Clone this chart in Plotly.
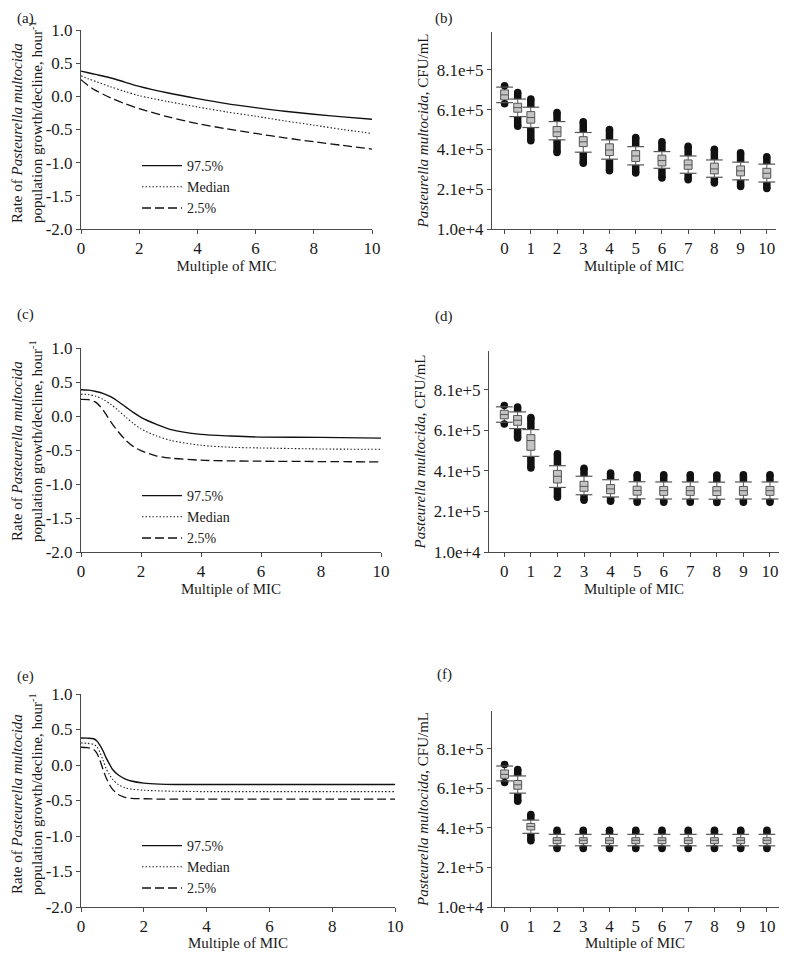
import plotly.graph_objects as go

# page is shown with the browser's default 8px body margin, so the figure is
# sized to fill the 787x960 window exactly and reference pixels are shifted by OFF
PAGE_W, PAGE_H = 787, 960
OFF = 8
W, H = PAGE_W - 2 * OFF, PAGE_H - 2 * OFF
FONT = "Liberation Serif"
AX = "#4a4a4a"
INK = "#111111"

# ---------------- data: rate curves (left panels) ----------------
a_x = [0, 0.25, 0.5, 1, 1.5, 2, 3, 4, 5, 6, 7, 8, 9, 10]
a_hi = [0.38, 0.355, 0.33, 0.28, 0.215, 0.15, 0.05, -0.035, -0.11, -0.17, -0.225, -0.27, -0.31, -0.345]
a_med = [0.31, 0.265, 0.225, 0.145, 0.075, 0.01, -0.08, -0.16, -0.235, -0.30, -0.37, -0.435, -0.50, -0.56]
a_lo = [0.25, 0.16, 0.09, -0.02, -0.11, -0.185, -0.31, -0.41, -0.49, -0.56, -0.625, -0.685, -0.74, -0.795]

c_x = [0, 0.25, 0.5, 0.75, 1, 1.25, 1.5, 1.75, 2, 2.5, 3, 4, 5, 6, 8, 10]
c_hi = [0.385, 0.38, 0.36, 0.33, 0.28, 0.21, 0.13, 0.05, -0.02, -0.12, -0.20, -0.27, -0.295, -0.31, -0.315, -0.325]
c_med = [0.32, 0.315, 0.29, 0.24, 0.17, 0.08, -0.02, -0.11, -0.19, -0.29, -0.36, -0.43, -0.46, -0.47, -0.485, -0.49]
c_lo = [0.245, 0.24, 0.20, 0.08, -0.09, -0.235, -0.36, -0.45, -0.51, -0.585, -0.62, -0.65, -0.66, -0.665, -0.67, -0.675]

e_x = [0, 0.2, 0.4, 0.5, 0.6, 0.7, 0.8, 0.9, 1.0, 1.2, 1.4, 1.6, 2, 2.5, 3, 4, 6, 8, 10]
e_hi = [0.38, 0.378, 0.37, 0.34, 0.28, 0.20, 0.10, 0.02, -0.06, -0.145, -0.195, -0.225, -0.255, -0.27, -0.275, -0.275, -0.275, -0.275, -0.275]
e_med = [0.31, 0.305, 0.29, 0.26, 0.18, 0.07, -0.05, -0.13, -0.20, -0.28, -0.32, -0.34, -0.355, -0.365, -0.37, -0.375, -0.375, -0.375, -0.375]
e_lo = [0.25, 0.245, 0.22, 0.17, 0.07, -0.06, -0.18, -0.27, -0.34, -0.42, -0.455, -0.47, -0.475, -0.48, -0.48, -0.48, -0.48, -0.48, -0.48]

series_names = ["97.5%", "Median", "2.5%"]

# ---------------- data: CFU box summaries (right panels) ----------------
mic_x = [0, 0.5, 1, 2, 3, 4, 5, 6, 7, 8, 9, 10]

b_max = [7.30e5, 6.96e5, 6.63e5, 5.96e5, 5.49e5, 5.10e5, 4.70e5, 4.48e5, 4.26e5, 4.11e5, 3.93e5, 3.73e5]
b_up = [7.23e5, 6.63e5, 6.22e5, 5.50e5, 4.95e5, 4.58e5, 4.24e5, 3.99e5, 3.77e5, 3.57e5, 3.46e5, 3.36e5]
b_q3 = [7.09e5, 6.42e5, 6.00e5, 5.25e5, 4.74e5, 4.38e5, 4.04e5, 3.81e5, 3.57e5, 3.41e5, 3.27e5, 3.15e5]
b_med = [6.84e5, 6.20e5, 5.70e5, 4.98e5, 4.48e5, 4.07e5, 3.77e5, 3.54e5, 3.32e5, 3.12e5, 3.02e5, 2.90e5]
b_q1 = [6.59e5, 5.97e5, 5.42e5, 4.74e5, 4.24e5, 3.79e5, 3.49e5, 3.27e5, 3.10e5, 2.87e5, 2.77e5, 2.65e5]
b_low = [6.45e5, 5.75e5, 5.20e5, 4.58e5, 3.96e5, 3.61e5, 3.32e5, 3.15e5, 2.90e5, 2.70e5, 2.57e5, 2.46e5]
b_min = [6.40e5, 5.26e5, 4.54e5, 3.95e5, 3.41e5, 3.03e5, 2.91e5, 2.66e5, 2.58e5, 2.41e5, 2.24e5, 2.13e5]

d_max = [7.32e5, 7.24e5, 6.73e5, 4.94e5, 4.23e5, 3.99e5, 3.91e5, 3.90e5, 3.90e5, 3.89e5, 3.90e5, 3.90e5]
d_up = [7.25e5, 7.00e5, 6.13e5, 4.35e5, 3.83e5, 3.66e5, 3.56e5, 3.55e5, 3.55e5, 3.54e5, 3.55e5, 3.55e5]
d_q3 = [7.08e5, 6.82e5, 5.88e5, 4.12e5, 3.58e5, 3.42e5, 3.34e5, 3.33e5, 3.33e5, 3.32e5, 3.33e5, 3.33e5]
d_med = [6.87e5, 6.59e5, 5.59e5, 3.83e5, 3.33e5, 3.21e5, 3.13e5, 3.12e5, 3.12e5, 3.11e5, 3.12e5, 3.12e5]
d_q1 = [6.66e5, 6.34e5, 5.11e5, 3.50e5, 3.09e5, 2.97e5, 2.90e5, 2.89e5, 2.89e5, 2.88e5, 2.89e5, 2.89e5]
d_low = [6.49e5, 6.18e5, 4.81e5, 3.28e5, 2.92e5, 2.81e5, 2.72e5, 2.71e5, 2.71e5, 2.70e5, 2.71e5, 2.71e5]
d_min = [6.41e5, 5.72e5, 4.24e5, 2.80e5, 2.65e5, 2.60e5, 2.55e5, 2.55e5, 2.55e5, 2.54e5, 2.55e5, 2.55e5]

f_max = [7.30e5, 7.05e5, 4.77e5, 3.98e5, 3.98e5, 3.98e5, 3.98e5, 3.98e5, 3.98e5, 3.98e5, 3.98e5, 3.98e5]
f_up = [7.22e5, 6.72e5, 4.49e5, 3.77e5, 3.77e5, 3.77e5, 3.77e5, 3.77e5, 3.77e5, 3.77e5, 3.77e5, 3.77e5]
f_q3 = [7.02e5, 6.49e5, 4.32e5, 3.60e5, 3.60e5, 3.60e5, 3.60e5, 3.60e5, 3.60e5, 3.60e5, 3.60e5, 3.60e5]
f_med = [6.80e5, 6.27e5, 4.17e5, 3.47e5, 3.47e5, 3.47e5, 3.47e5, 3.47e5, 3.47e5, 3.47e5, 3.47e5, 3.47e5]
f_q1 = [6.60e5, 6.05e5, 3.99e5, 3.30e5, 3.30e5, 3.30e5, 3.30e5, 3.30e5, 3.30e5, 3.30e5, 3.30e5, 3.30e5]
f_low = [6.47e5, 5.85e5, 3.82e5, 3.19e5, 3.19e5, 3.19e5, 3.19e5, 3.19e5, 3.19e5, 3.19e5, 3.19e5, 3.19e5]
f_min = [6.39e5, 5.44e5, 3.44e5, 3.06e5, 3.06e5, 3.06e5, 3.06e5, 3.06e5, 3.06e5, 3.06e5, 3.06e5, 3.06e5]

rate_tickvals = [-2.0, -1.5, -1.0, -0.5, 0.0, 0.5, 1.0]
rate_ticktext = ["-2.0", "-1.5", "-1.0", "-0.5", "0.0", "0.5", "1.0"]
cfu_tickvals = [1.0e4, 2.1e5, 4.1e5, 6.1e5, 8.1e5]
cfu_ticktext = ["1.0e+4", "2.1e+5", "4.1e+5", "6.1e+5", "8.1e+5"]
mic_tickvals = [0, 1, 2, 3, 4, 5, 6, 7, 8, 9, 10]
x_title = "Multiple of MIC"

# ---------------- layout helpers (arguments in reference page pixels) ----------------
def px_x(p):
    return min(max((p - OFF) / W, 0.0), 1.0)

def px_y(p):
    return min(max(1 - (p - OFF) / H, 0.0), 1.0)

def xd(l, r):
    return [px_x(l), px_x(r)]

def yd(top, bot):
    return [px_y(bot), px_y(top)]

tickfont = dict(family=FONT, size=17, color="#1a1a1a")
titlefont = dict(family=FONT, size=15, color="#1a1a1a")

def base_axis():
    return dict(showline=True, linecolor=AX, linewidth=1, ticks="outside", ticklen=4,
                tickcolor=AX, tickwidth=1, showgrid=False, zeroline=False,
                tickfont=tickfont, automargin=False, ticklabeloverflow="allow")

fig = go.Figure()

dash_styles = [dict(dash="solid", width=1.4, color=INK),
               dict(dash="1.5px,2px", width=1.1, color="#222"),
               dict(dash="9px,4px", width=1.3, color=INK)]

left_panels = [
    ("x", "y", "legend", a_x, [a_hi, a_med, a_lo]),
    ("x3", "y3", "legend2", c_x, [c_hi, c_med, c_lo]),
    ("x5", "y5", "legend3", e_x, [e_hi, e_med, e_lo]),
]
for xa, ya, lg, xs, ys_list in left_panels:
    for name, ys, st in zip(series_names, ys_list, dash_styles):
        fig.add_trace(go.Scatter(x=xs, y=ys, mode="lines", name=name,
                                 line=dict(shape="spline", smoothing=0.8, **st),
                                 xaxis=xa, yaxis=ya, legend=lg, showlegend=True,
                                 hoverinfo="skip"))

right_panels = [
    ("x2", "y2", b_max, b_up, b_q3, b_med, b_q1, b_low, b_min),
    ("x4", "y4", d_max, d_up, d_q3, d_med, d_q1, d_low, d_min),
    ("x6", "y6", f_max, f_up, f_q3, f_med, f_q1, f_low, f_min),
]
for xa, ya, vmax, vup, vq3, vmed, vq1, vlow, vmin in right_panels:
    # outlier columns (dense black dots) from whisker cap to extreme
    sx, sy = [], []
    for xv, u, mx, lo, mn in zip(mic_x, vup, vmax, vlow, vmin):
        sx += [xv, xv, None, xv, xv, None]
        sy += [u, mx, None, lo, mn, None]
    fig.add_trace(go.Scatter(x=sx, y=sy, mode="lines", line=dict(color=INK, width=7.5),
                             xaxis=xa, yaxis=ya, showlegend=False, hoverinfo="skip"))
    fig.add_trace(go.Scatter(x=mic_x + mic_x, y=vmax + vmin, mode="markers",
                             marker=dict(color=INK, size=7.5, line=dict(width=0)),
                             xaxis=xa, yaxis=ya, showlegend=False, hoverinfo="skip"))
    # box (interquartile) with median
    fig.add_trace(go.Box(x=mic_x, q1=vq1, median=vmed, q3=vq3, lowerfence=vlow, upperfence=vup,
                         width=0.3, whiskerwidth=0, fillcolor="#c4c4c4",
                         line=dict(color="#555555", width=1), boxpoints=False,
                         xaxis=xa, yaxis=ya, showlegend=False, hoverinfo="skip"))
    # whisker caps
    fig.add_trace(go.Scatter(x=mic_x + mic_x, y=vup + vlow, mode="markers",
                             marker=dict(symbol="line-ew", size=12, line=dict(color="#555555", width=1.2)),
                             xaxis=xa, yaxis=ya, showlegend=False, hoverinfo="skip"))

layout = dict(width=W, height=H, margin=dict(l=0, r=0, t=0, b=0),
              paper_bgcolor="white", plot_bgcolor="white",
              font=dict(family=FONT, size=15, color="#1a1a1a"), showlegend=True)

left_dom = [(xd(81, 372), yd(30, 229)), (xd(81, 381), yd(348, 552)), (xd(81, 395), yd(694, 907))]
right_dom = [(xd(492, 776), yd(32, 229), [-0.48, 10.35]),
             (xd(489, 779), yd(351, 552), [-0.576, 10.34]),
             (xd(492, 779), yd(711, 907), [-0.48, 10.46])]

for i, (dx, dy) in enumerate(left_dom):
    n = 2 * i + 1
    xk = "xaxis" if n == 1 else f"xaxis{n}"
    yk = "yaxis" if n == 1 else f"yaxis{n}"
    ax = base_axis()
    ax.update(domain=dx, range=[0, 10], tickvals=[0, 2, 4, 6, 8, 10],
              anchor="y" if n == 1 else f"y{n}")
    if n < 5:
        ax["title"] = dict(text=x_title, font=titlefont, standoff=0)
    layout[xk] = ax
    ay = base_axis()
    ay.update(domain=dy, range=[-2, 1], tickvals=rate_tickvals, ticktext=rate_ticktext,
              anchor="x" if n == 1 else f"x{n}")
    layout[yk] = ay

for i, (dx, dy, xr) in enumerate(right_dom):
    n = 2 * i + 2
    ax = base_axis()
    ax.update(domain=dx, range=xr, tickvals=mic_tickvals, anchor=f"y{n}")
    if n < 6:
        ax["title"] = dict(text=x_title, font=titlefont, standoff=0)
    layout[f"xaxis{n}"] = ax
    ay = base_axis()
    ay.update(domain=dy, range=[1.0e4, 1.0e6], tickvals=cfu_tickvals, ticktext=cfu_ticktext,
              anchor=f"x{n}",
              title=dict(text="<i>Pasteurella multocida</i>, CFU/mL", font=titlefont, standoff=4))
    layout[f"yaxis{n}"] = ay

def legend_at(px, py):
    return dict(x=px_x(px), y=px_y(py), xanchor="left", yanchor="top",
                bgcolor="rgba(0,0,0,0)", borderwidth=0, tracegroupgap=0,
                font=dict(family=FONT, size=14, color="#1a1a1a"), itemwidth=40)

layout["legend"] = legend_at(137, 150)
layout["legend2"] = legend_at(137, 480)
layout["legend3"] = legend_at(137, 830)

annotations = []
# panel letters (top row pinned to the top edge of the figure)
for lab, px, py in [("(a)", 25, None), ("(b)", 444, None), ("(c)", 25, 315),
                    ("(d)", 444, 316), ("(e)", 25, 676), ("(f)", 444, 674)]:
    annotations.append(dict(text=lab, x=px_x(px), y=1.0 if py is None else px_y(py),
                            xref="paper", yref="paper", showarrow=False, xanchor="center",
                            yanchor="top" if py is None else "middle",
                            font=dict(family=FONT, size=15, color="#1a1a1a")))
# two-line y titles of the rate panels
for c1, c2 in [(133, 122), (451, 441), (804, 794)]:
    annotations.append(dict(text="Rate of <i>Pasteurella multocida</i>", x=px_x(17), y=px_y(c1),
                            xref="paper", yref="paper", showarrow=False, textangle=-90,
                            xanchor="center", yanchor="middle", font=titlefont))
    annotations.append(dict(text="population growth/decline, hour<sup>-1</sup>", x=px_x(36), y=px_y(c2),
                            xref="paper", yref="paper", showarrow=False, textangle=-90,
                            xanchor="center", yanchor="middle", font=titlefont))
# bottom-row x titles, kept inside the figure's bottom edge
for cx in [238, 635]:
    annotations.append(dict(text=x_title, x=px_x(cx), y=0.0, xref="paper", yref="paper",
                            showarrow=False, xanchor="center", yanchor="bottom",
                            borderpad=0, font=titlefont))
layout["annotations"] = annotations

fig.update_layout(**layout)
fig.write_html("out.html")
